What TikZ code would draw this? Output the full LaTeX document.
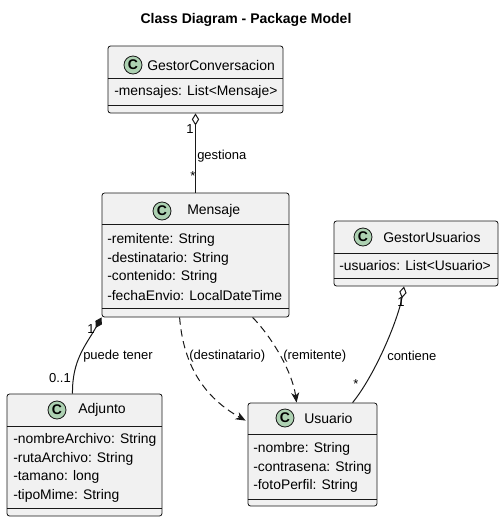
\documentclass[tikz,border=0pt]{standalone}
\usepackage{fontspec}
\setmainfont{Liberation Sans}
\usetikzlibrary{arrows.meta,fit,calc}
\definecolor{linec}{HTML}{181818}
\definecolor{boxfill}{HTML}{F1F1F1}
\definecolor{circfill}{HTML}{ADD1B2}
\begin{document}
\begin{tikzpicture}[x=0.75pt,y=-0.75pt,
  classbox/.style={draw=linec, fill=boxfill, rounded corners=1.9pt, inner sep=0pt, line width=0.6pt},
  sepline/.style={draw=linec, line width=0.6pt},
  circ/.style={circle, draw=linec, fill=circfill, minimum size=13.5pt, inner sep=0pt, line width=0.6pt, font=\fontsize{10.5}{12}\selectfont\bfseries},
  cname/.style={anchor=west, inner sep=0pt, font=\fontsize{10.5}{12}\selectfont},
  attr/.style={anchor=west, inner sep=0pt, font=\fontsize{10.4}{12}\selectfont},
  lbl/.style={inner sep=0pt, font=\fontsize{9.75}{11}\selectfont},
  lblw/.style={lbl, anchor=west},
  conn/.style={draw=linec, line width=0.75pt},
  dep/.style={conn, dashed, dash pattern=on 5.5pt off 3.5pt, -{Stealth[length=7.5pt, width=6pt, inset=2.2pt]}},
  agg/.style={conn, -{Diamond[length=9pt, width=5.5pt, fill=white]}},
  comp/.style={conn, -{Diamond[length=9pt, width=5.5pt, fill=linec]}}
]
\useasboundingbox (0,0) rectangle (504,522);

\node[font=\bfseries\fontsize{10.5}{12}\selectfont, inner sep=0pt] (title) at (246,20) {Class Diagram - Package Model};

% GestorConversacion
\node[classbox, fit={(108,46) (283,113)}] (gc) {};
\draw[sepline] (gc.west |- 0,78) -- (gc.east |- 0,78);
\draw[sepline] (gc.west |- 0,105) -- (gc.east |- 0,105);
\node[circ] (gcC) at (133,65) {C};
\node[cname] (gcN) at (147,65) {GestorConversacion};
\node[attr] (gcA1) at (114,92) {-mensajes: List<Mensaje>};

% Mensaje
\node[classbox, fit={(102,193) (289,317)}] (ms) {};
\draw[sepline] (ms.west |- 0,224) -- (ms.east |- 0,224);
\draw[sepline] (ms.west |- 0,308) -- (ms.east |- 0,308);
\node[circ] (msC) at (162,211) {C};
\node[cname] (msN) at (187,211) {Mensaje};
\node[attr] (msA1) at (107,240) {-remitente: String};
\node[attr] (msA2) at (107,258.5) {-destinatario: String};
\node[attr] (msA3) at (107,277) {-contenido: String};
\node[attr] (msA4) at (107,295.5) {-fechaEnvio: LocalDateTime};

% GestorUsuarios
\node[classbox, fit={(334,221) (498,286)}] (gu) {};
\draw[sepline] (gu.west |- 0,253) -- (gu.east |- 0,253);
\draw[sepline] (gu.west |- 0,278) -- (gu.east |- 0,278);
\node[circ] (guC) at (363,237) {C};
\node[cname] (guN) at (383,237) {GestorUsuarios};
\node[attr] (guA1) at (339,266) {-usuarios: List<Usuario>};

% Adjunto
\node[classbox, fit={(7,394) (162,516)}] (ad) {};
\draw[sepline] (ad.west |- 0,426) -- (ad.east |- 0,426);
\draw[sepline] (ad.west |- 0,508) -- (ad.east |- 0,508);
\node[circ] (adC) at (57,410) {C};
\node[cname] (adN) at (78,410) {Adjunto};
\node[attr] (adA1) at (13,440) {-nombreArchivo: String};
\node[attr] (adA2) at (13,458.5) {-rutaArchivo: String};
\node[attr] (adA3) at (13,477) {-tamano: long};
\node[attr] (adA4) at (13,495.5) {-tipoMime: String};

% Usuario
\node[classbox, fit={(248,403) (377,506)}] (us) {};
\draw[sepline] (us.west |- 0,434) -- (us.east |- 0,434);
\draw[sepline] (us.west |- 0,499) -- (us.east |- 0,499);
\node[circ] (usC) at (285,418) {C};
\node[cname] (usN) at (304,418) {Usuario};
\node[attr] (usA1) at (253,449) {-nombre: String};
\node[attr] (usA2) at (253,467.5) {-contrasena: String};
\node[attr] (usA3) at (253,486) {-fotoPerfil: String};

% connectors
\draw[agg] (ms.north) -- (gc.south);
\node[lbl] (l1) at (190,129) {1};
\node[lblw] (l2) at (197,156) {gestiona};
\node[lbl] (l3) at (193,176) {*};

\draw[comp] ($(ad.north)+(-12,0)$) .. controls (72,360) and (86,345) .. (ms.south west);
\node[lbl] (l4) at (91,329) {1};
\node[lblw] (l5) at (83,356) {puede tener};
\node[lbl] (l6) at (60,378) {0..1};

\draw[dep] ($(ms.south west)+(78,0)$) .. controls (183,360) and (200,395) .. ($(us.north west)+(-2,18)$);
\node[lblw] (l7) at (189,356) {(destinatario)};

\draw[dep] ($(ms.south west)+(151,0)$) .. controls (270,335) and (292,370) .. ($(us.north west)+(49,0)$);
\node[lblw] (l8) at (283,356) {(remitente)};

\draw[agg] ($(us.north west)+(105,0)$) .. controls (375,375) and (398,320) .. ($(gu.south)+(-12,0)$);
\node[lbl] (l9) at (401,302) {1};
\node[lblw] (l10) at (387,356) {contiene};
\node[lbl] (l11) at (356,384) {*};
\end{tikzpicture}
\end{document}
